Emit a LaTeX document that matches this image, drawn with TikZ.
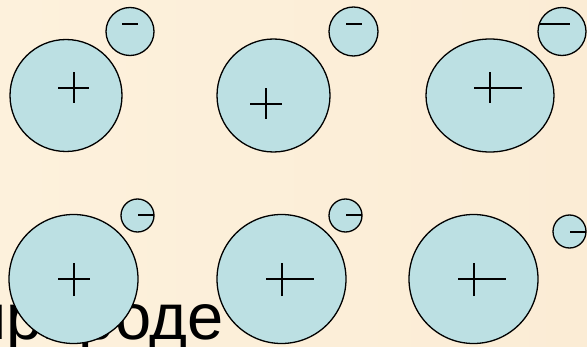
\documentclass[tikz,border=0pt]{standalone}
\usepackage{fontspec}
\newfontfamily\txtfont{Liberation Sans}
\usetikzlibrary{shapes.geometric}
\definecolor{bgA}{RGB}{253,241,220}
\definecolor{bgB}{RGB}{251,236,213}
\definecolor{ionfill}{RGB}{188,224,227}
\tikzset{
  ion/.style={circle,draw=black,line width=1.3pt,fill=ionfill,inner sep=0pt},
  ionell/.style={ellipse,draw=black,line width=1.3pt,fill=ionfill,inner sep=0pt},
  sign/.style={draw=black,line width=1.5pt}
}
\begin{document}
\begin{tikzpicture}[x=1pt,y=1pt]
\useasboundingbox (0,0) rectangle (587,346);
\clip (0,0) rectangle (587,346);
\shade[left color=bgA,right color=bgB] (0,0) rectangle (587,346);
% text behind the ions
\node[anchor=base east,inner sep=0pt,font={\txtfont\fontsize{65}{70}\selectfont}] (word) at (224,7) {природе};
% large ions
\node[ion,minimum size=112pt] (b1) at (66,250.5) {};
\node[ion,minimum size=113pt] (b2) at (273.5,250.5) {};
\node[ionell,minimum width=128pt,minimum height=113pt] (b3) at (490,250.5) {};
\node[ion,minimum size=129pt] (b4) at (73.5,67) {};
\node[ion,minimum size=129pt] (b5) at (281.5,67) {};
\node[ion,minimum size=129pt] (b6) at (473.5,67) {};
% small ions
\node[ion,minimum size=48pt] (s1) at (130,314.5) {};
\node[ion,minimum size=49pt] (s2) at (353.5,314.5) {};
\node[ion,minimum size=48pt] (s3) at (562,314.5) {};
\node[ion,minimum size=33pt] (s4) at (137.5,130.5) {};
\node[ion,minimum size=33pt] (s5) at (345.5,130.5) {};
\node[ion,minimum size=33pt] (s6) at (569.5,114.5) {};
% plus signs
\draw[sign] (58,258) -- (89,258) (74,243) -- (74,274);
\draw[sign] (250,242) -- (282,242) (266,227) -- (266,258);
\draw[sign] (474,258) -- (522,258) (490,243) -- (490,274);
\draw[sign] (58,67) -- (90,67) (74,50) -- (74,83);
\draw[sign] (266,67) -- (314,67) (282,50) -- (282,83);
\draw[sign] (458,67) -- (506,67) (474,50) -- (474,83);
% minus signs
\draw[sign] (122,322) -- (138,322);
\draw[sign] (346,322) -- (362,322);
\draw[sign] (539,322) -- (570,322);
\draw[sign] (138,131) -- (154,131);
\draw[sign] (346,131) -- (362,131);
\draw[sign] (570,114) -- (586,114);
\end{tikzpicture}
\end{document}
